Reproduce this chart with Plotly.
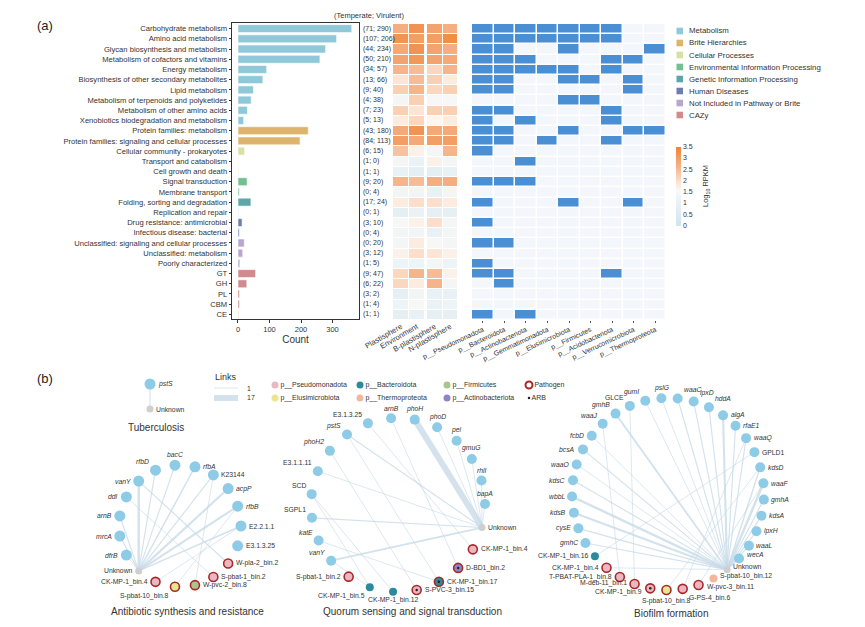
import math
import plotly.graph_objects as go

W, H = 865, 627
FONT = "Liberation Sans, Arial, sans-serif"


def fx(p):
    return p / W


def fy(p):
    return 1 - p / H


# ---------------- Panel (a) data ----------------
categories = [
    "Carbohydrate metabolism", "Amino acid metabolism", "Glycan biosynthesis and metabolism",
    "Metabolism of cofactors and vitamins", "Energy metabolism",
    "Biosynthesis of other secondary metabolites", "Lipid metabolism",
    "Metabolism of terpenoids and polyketides", "Metabolism of other amino acids",
    "Xenobiotics biodegradation and metabolism", "Protein families: metabolism",
    "Protein families: signaling and cellular processes", "Cellular community - prokaryotes",
    "Transport and catabolism", "Cell growth and death", "Signal transduction",
    "Membrane transport", "Folding, sorting and degradation", "Replication and repair",
    "Drug resistance: antimicrobial", "Infectious disease: bacterial",
    "Unclassified: signaling and cellular processes", "Unclassified: metabolism",
    "Poorly characterized", "GT", "GH", "PL", "CBM", "CE",
]
temperate = [71, 107, 44, 50, 34, 13, 9, 4, 7, 5, 43, 84, 6, 1, 1, 9, 0, 17, 0, 3, 0, 0, 3, 1, 9, 6, 3, 1, 1]
virulent = [290, 206, 234, 210, 57, 66, 40, 38, 23, 13, 180, 113, 15, 0, 1, 20, 4, 24, 1, 10, 4, 20, 12, 5, 47, 22, 2, 4, 1]
group_of = [0] * 10 + [1, 1] + [2, 2, 2] + [3] + [3] + [4, 4] + [5, 5] + [6, 6, 6] + [7] * 5
group_names = ["Metabolism", "Brite Hierarchies", "Cellular Processes",
               "Environmental Information Processing", "Genetic Information Processing",
               "Human Diseases", "Not Included in Pathway or Brite", "CAZy"]
group_colors = ["#8fc9d9", "#deb46c", "#d6e1a4", "#72bf8f", "#5fa6aa", "#6c7fac", "#b7a7cc", "#d08b8f"]

heat_cols = ["Plastisphere", "Environment", "B-plastisphere", "N-plastisphere"]
heat_vals = [
    [2.7, 3.2, 2.9, 2.7], [3.2, 3.0, 3.0, 3.3], [2.8, 3.2, 2.9, 2.7], [2.9, 3.1, 2.9, 2.8],
    [2.6, 2.5, 2.1, 2.6], [1.9, 2.5, 2.2, 1.8], [2.2, 2.6, 2.1, 2.2], [1.4, 2.2, 1.45, 1.45],
    [2.2, 1.9, 2.2, 2.2], [1.8, 2.1, 1.6, 1.8], [2.8, 3.2, 2.8, 2.8], [3.0, 2.8, 3.0, 3.0],
    [2.4, 1.7, 1.4, 2.6], [1.4, 1.1, 1.7, 1.4], [1.0, 0.8, 0.8, 1.0], [2.6, 2.5, 2.7, 2.7],
    [1.3, 1.3, 1.0, 1.4], [1.8, 2.0, 2.0, 1.8], [0.8, 1.1, 0.9, 0.9], [1.5, 1.7, 2.0, 1.4],
    [1.3, 1.3, 1.0, 1.4], [1.4, 1.8, 1.5, 1.4], [1.7, 2.0, 1.9, 1.7], [1.2, 1.2, 1.4, 1.2],
    [2.1, 2.6, 2.5, 1.7], [2.1, 1.8, 2.6, 1.4], [0.9, 1.3, 1.0, 1.0], [1.2, 1.5, 1.1, 1.2],
    [0.8, 1.0, 0.9, 0.9],
]

phyla_cols = ["p__Pseudomonadota", "p__Bacteroidota", "p__Actinobacteriota", "p__Gemmatimonadota",
              "p__Elusimicrobiota", "p__Firmicutes", "p__Acidobacteriota", "p__Verrucomicrobiota",
              "p__Thermoproteota"]
# indices (0-based) of phyla in which each category is present
presence = [
    [0, 1, 2, 3, 4, 5, 6], [0, 1, 2, 3, 4, 5, 6], [0, 1, 4, 8], [0, 1, 2, 6, 7], [0, 1, 2, 3, 4, 6],
    [0, 1, 4, 5, 7], [0, 1, 7], [4, 5], [0, 1, 6], [0, 2, 6], [0, 1, 4, 7, 8], [0, 1, 3, 6],
    [0], [2], [], [0, 1, 2], [], [0, 4, 7], [], [0], [], [0, 1], [], [0], [0, 1, 6], [1], [], [], [0, 2],
]

# ---------------- Panel (b) data ----------------
phylum_colors = {
    "Pseudomonadota": "#eab6c3", "Bacteroidota": "#2b8a9b", "Firmicutes": "#a9c58c",
    "Elusimicrobiota": "#ece58f", "Thermoproteota": "#f2b89d", "Actinobacteriota": "#8c86c9",
}

tb_nodes = ["pstS", "Unknown"]
tb_bins = {}
tb_edges = [("pstS", "Unknown", 2)]

abx_nodes = ["E2.2.1.1", "rfbB", "acpP", "K23144", "rfbA", "bacC", "rfbD", "vanY", "ddl", "arnB",
             "mrcA", "dfrB", "Unknown", "CK-MP-1_bin.4", "S-pbat-10_bin.8", "W-pvc-2_bin.8",
             "S-pbat-1_bin.2", "W-pla-2_bin.2", "E3.1.3.25"]
abx_bins = {"CK-MP-1_bin.4": ("Pseudomonadota", 1, 0), "S-pbat-10_bin.8": ("Elusimicrobiota", 1, 0),
            "W-pvc-2_bin.8": ("Firmicutes", 1, 0), "S-pbat-1_bin.2": ("Pseudomonadota", 1, 0),
            "W-pla-2_bin.2": ("Pseudomonadota", 1, 0)}
abx_edges = [("Unknown", "dfrB", 1), ("Unknown", "mrcA", 2), ("Unknown", "arnB", 2), ("Unknown", "vanY", 6),
             ("Unknown", "rfbD", 2), ("Unknown", "bacC", 2), ("Unknown", "rfbA", 3), ("Unknown", "K23144", 2),
             ("Unknown", "acpP", 5), ("Unknown", "rfbB", 5), ("Unknown", "E2.2.1.1", 3),
             ("ddl", "S-pbat-1_bin.2", 1), ("vanY", "W-pla-2_bin.2", 2), ("CK-MP-1_bin.4", "E2.2.1.1", 1),
             ("S-pbat-10_bin.8", "rfbB", 1), ("W-pvc-2_bin.8", "K23144", 1)]

qs_nodes = ["Unknown", "bapA", "rhlI", "gmuG", "pel", "phoD", "phoH", "arnB", "E3.1.3.25", "pstS", "phoH2",
            "E3.1.1.11", "SCD", "SGPL1", "katE", "vanY", "S-pbat-1_bin.2", "CK-MP-1_bin.5",
            "CK-MP-1_bin.12", "S-PVC-3_bin.15", "CK-MP-1_bin.17", "D-BD1_bin.2", "CK-MP-1_bin.4"]
qs_bins = {"S-pbat-1_bin.2": ("Pseudomonadota", 1, 0), "CK-MP-1_bin.5": ("Bacteroidota", 0, 0),
           "CK-MP-1_bin.12": ("Bacteroidota", 0, 0), "S-PVC-3_bin.15": ("Pseudomonadota", 1, 1),
           "CK-MP-1_bin.17": ("Bacteroidota", 1, 1), "D-BD1_bin.2": ("Actinobacteriota", 1, 1),
           "CK-MP-1_bin.4": ("Pseudomonadota", 1, 0)}
qs_edges = [("Unknown", "bapA", 1), ("Unknown", "rhlI", 1), ("Unknown", "gmuG", 1), ("Unknown", "pel", 1),
            ("Unknown", "phoD", 1), ("Unknown", "phoH", 17), ("Unknown", "pstS", 2), ("Unknown", "E3.1.1.11", 1),
            ("Unknown", "SGPL1", 2), ("Unknown", "vanY", 4), ("E3.1.3.25", "CK-MP-1_bin.4", 1),
            ("arnB", "D-BD1_bin.2", 1), ("phoH2", "S-PVC-3_bin.15", 1), ("SCD", "CK-MP-1_bin.12", 1),
            ("SCD", "CK-MP-1_bin.5", 1), ("katE", "CK-MP-1_bin.17", 1), ("vanY", "CK-MP-1_bin.5", 1),
            ("pstS", "CK-MP-1_bin.17", 1)]

bf_nodes = ["Unknown", "wecA", "waaL", "lpxH", "kdsA", "gmhA", "waaF", "kdsD", "GPLD1", "waaQ", "rfaE1",
            "algA", "hddA", "lpxD", "waaC", "pslG", "gumI", "GLCE", "gmhB", "waaJ", "fcbD", "bcsA", "waaO",
            "kdsC", "wbbL", "kdsB", "cysE", "gmhC", "CK-MP-1_bin.16", "CK-MP-1_bin.4", "T-PBAT-PLA-1_bin.8",
            "M-deb-11_bin.1", "CK-MP-1_bin.9", "S-pbat-10_bin.8", "G-PS-4_bin.6", "W-pvc-3_bin.11",
            "S-pbat-10_bin.12"]
bf_bins = {"CK-MP-1_bin.16": ("Bacteroidota", 0, 0), "CK-MP-1_bin.4": ("Pseudomonadota", 1, 0),
           "T-PBAT-PLA-1_bin.8": ("Pseudomonadota", 1, 0), "M-deb-11_bin.1": ("Pseudomonadota", 1, 0),
           "CK-MP-1_bin.9": ("Pseudomonadota", 1, 1), "S-pbat-10_bin.8": ("Elusimicrobiota", 1, 0),
           "G-PS-4_bin.6": ("Pseudomonadota", 1, 0), "W-pvc-3_bin.11": ("Pseudomonadota", 1, 0),
           "S-pbat-10_bin.12": ("Thermoproteota", 0, 0)}
bf_edges = [("Unknown", "wecA", 2), ("Unknown", "waaL", 2), ("Unknown", "lpxH", 2), ("Unknown", "kdsA", 2),
            ("Unknown", "gmhA", 2), ("Unknown", "waaF", 6), ("Unknown", "kdsD", 3), ("Unknown", "waaQ", 2),
            ("Unknown", "rfaE1", 2), ("Unknown", "algA", 5), ("Unknown", "hddA", 2), ("Unknown", "lpxD", 2),
            ("Unknown", "waaC", 2), ("Unknown", "pslG", 1), ("Unknown", "gumI", 1), ("Unknown", "gmhB", 4),
            ("Unknown", "bcsA", 2), ("Unknown", "waaO", 1), ("Unknown", "kdsC", 2), ("Unknown", "wbbL", 6),
            ("Unknown", "kdsB", 5), ("Unknown", "cysE", 2), ("Unknown", "gmhC", 2), ("Unknown", "fcbD", 1),
            ("CK-MP-1_bin.16", "GPLD1", 1), ("CK-MP-1_bin.4", "Unknown", 1), ("T-PBAT-PLA-1_bin.8", "waaJ", 1),
            ("M-deb-11_bin.1", "GLCE", 1), ("S-pbat-10_bin.8", "kdsD", 1), ("W-pvc-3_bin.11", "waaF", 1),
            ("G-PS-4_bin.6", "waaQ", 1)]

# label placement overrides (style only): position keyword
label_override = {
    "Tuberculosis": {"pstS": "middle right", "Unknown": "middle right"},
    "Antibiotic synthesis and resistance": {"CK-MP-1_bin.4": "middle left", "S-pbat-10_bin.8": "bottom left",
                                            "W-pvc-2_bin.8": "middle right", "Unknown": "middle left",
                                            "rfbD": "top left", "bacC": "top center", "rfbA": "middle right"},
    "Quorum sensing and signal transduction": {"CK-MP-1_bin.5": "bottom left", "CK-MP-1_bin.12": "bottom center",
                                               "S-PVC-3_bin.15": "middle right", "Unknown": "middle right",
                                               "bapA": "top center", "rhlI": "top center", "gmuG": "top center",
                                               "pel": "top center", "phoD": "top center", "phoH": "top center",
                                               "arnB": "top center", "E3.1.3.25": "top left",
                                               "pstS": "top left", "phoH2": "top left", "E3.1.1.11": "top left",
                                               "SCD": "top left", "SGPL1": "top left", "katE": "top left",
                                               "vanY": "top left", "S-pbat-1_bin.2": "middle left"},
    "Biofilm formation": {"M-deb-11_bin.1": "middle left", "CK-MP-1_bin.9": "middle left",
                          "S-pbat-10_bin.8": "bottom center", "G-PS-4_bin.6": "bottom right",
                          "W-pvc-3_bin.11": "middle right", "S-pbat-10_bin.12": "middle right",
                          "Unknown": "middle right", "gumI": "top left", "pslG": "top center",
                          "waaC": "top right", "lpxD": "top right", "hddA": "top right",
                          "GLCE": "top left", "gmhB": "top left", "waaJ": "top left"},
}
# extra label offsets in px (dx right, dy down)
label_nudge = {
    "Biofilm formation": {"M-deb-11_bin.1": (0, -1), "CK-MP-1_bin.9": (0, 4), "Unknown": (0, -3),
                          "wecA": (0, -4), "S-pbat-10_bin.12": (0, -2.5), "W-pvc-3_bin.11": (0, 2)},
    "Quorum sensing and signal transduction": {"CK-MP-1_bin.12": (0, -1)},
}

# network layout (centre x, centre y, radius in px, start angle deg, gene marker size)
networks = [
    ("Tuberculosis", tb_nodes, tb_bins, tb_edges, (150, 396.5, 12.5, 90, 11)),
    ("Antibiotic synthesis and resistance", abx_nodes, abx_bins, abx_edges, (180, 526, 61, 0, 11)),
    ("Quorum sensing and signal transduction", qs_nodes, qs_bins, qs_edges, (398, 505, 87, -15, 10)),
    ("Biofilm formation", bf_nodes, bf_bins, bf_edges, (668, 494, 96, -52, 10)),
]
titles_pos = {"Tuberculosis": (156, 427), "Antibiotic synthesis and resistance": (187, 611),
              "Quorum sensing and signal transduction": (412, 611), "Biofilm formation": (671, 613)}

# ---------------- Build figure ----------------
fig = go.Figure()
n = len(categories)
rows = list(range(n))
totals = [t + v for t, v in zip(temperate, virulent)]

fig.add_trace(go.Bar(
    x=totals, y=rows, orientation="h", width=0.78,
    marker=dict(color=[group_colors[g] for g in group_of], line=dict(color="white", width=0.6)),
    xaxis="x", yaxis="y", showlegend=False))

heat_scale = [[0, "#cfe5ee"], [0.35, "#eef4f6"], [0.45, "#faf8f6"], [0.55, "#fde3d2"],
              [0.75, "#f6b288"], [1, "#ee8434"]]
fig.add_trace(go.Heatmap(
    z=[r[:2] for r in heat_vals], x=heat_cols[:2], y=rows, xaxis="x2", yaxis="y2",
    colorscale=heat_scale, zmin=0, zmax=3.5, xgap=1, ygap=1, showscale=True,
    colorbar=dict(x=fx(676), xanchor="left", y=fy(186), yanchor="middle", len=79, lenmode="pixels",
                  thickness=5, outlinewidth=0, ticks="", tickvals=[0, 0.5, 1, 1.5, 2, 2.5, 3, 3.5],
                  ticktext=["0", "0.5", "1", "1.5", "2", "2.5", "3", "3.5"],
                  tickfont=dict(size=7, color="#333", family=FONT), xpad=0, ypad=0)))
fig.add_trace(go.Heatmap(
    z=[r[2:] for r in heat_vals], x=heat_cols[2:], y=rows, xaxis="x3", yaxis="y2",
    colorscale=heat_scale, zmin=0, zmax=3.5, xgap=1, ygap=1, showscale=False))

bin_matrix = [[1 if j in presence[i] else 0 for j in range(len(phyla_cols))] for i in range(n)]
fig.add_trace(go.Heatmap(
    z=bin_matrix, x=phyla_cols, y=rows, xaxis="x4", yaxis="y2",
    colorscale=[[0, "#f3f6fb"], [1, "#4a8fd4"]], zmin=0, zmax=1, xgap=1.5, ygap=1.5, showscale=False))


def pann(x, y, text, size, xanchor="center", yanchor="middle", color="#333", **kw):
    d = dict(x=fx(x), y=fy(y), xref="paper", yref="paper", text=text, showarrow=False,
             xanchor=xanchor, yanchor=yanchor, font=dict(size=size, color=color, family=FONT))
    d.update(kw)
    return d


ann = []
for i in rows:
    ann.append(dict(x=fx(361), xref="paper", y=i, yref="y", text=f"({temperate[i]}; {virulent[i]})",
                    showarrow=False, xanchor="left", yanchor="middle", font=dict(size=7, color="#333")))
ann.append(pann(369, 15, "(Temperate; Virulent)", 7.5))
ann.append(pann(35, 25, "(a)", 13, xanchor="left", color="#222"))
ann.append(pann(35, 378, "(b)", 13, xanchor="left", color="#222"))
ann.append(pann(706, 186, "Log<sub>10</sub> RPKM", 7.5, textangle=-90))

shapes = []
for k, (gname, gcol) in enumerate(zip(group_names, group_colors)):
    yc = 31 + 12 * k
    shapes.append(dict(type="rect", xref="paper", yref="paper", x0=fx(676.5), x1=fx(683),
                       y0=fy(yc + 3.3), y1=fy(yc - 3.3), fillcolor=gcol, line=dict(width=0)))
    ann.append(pann(687, yc, gname, 7.8, xanchor="left"))

# ---------------- networks ----------------
EDGE_COL = "rgba(196,216,230,0.75)"
GENE_COL = "#8ecbe6"
UNK_COL = "#cfcfcf"
PATH_COL = "#a82828"


def ew(w):
    return 0.8 + (w - 1) * 5.2 / 16


def label_pos(c, s):
    if c > 0.2:
        return "middle right"
    if c < -0.2:
        return "middle left"
    vert = "top" if s >= 0 else "bottom"
    if c > 0.08:
        return vert + " right"
    if c < -0.08:
        return vert + " left"
    return vert + " center"


def label_ann(x, y, text, where, rad, nudge):
    vert, horiz = where.split()
    xs, ys = 0.0, 0.0
    diag = 0.7 if (vert != "middle" and horiz != "center") else 1.0
    if horiz == "right":
        xa, xs = "left", rad * diag + 1.5
    elif horiz == "left":
        xa, xs = "right", -(rad * diag + 1.5)
    else:
        xa = "center"
    if vert == "top":
        ya, ys = "bottom", rad * diag + 0.5
    elif vert == "bottom":
        ya, ys = "top", -(rad * diag + 0.5)
    else:
        ya = "middle"
    xs += nudge[0]
    ys -= nudge[1]
    return dict(x=x, y=y, xref="x5", yref="y5", text=text, showarrow=False, xanchor=xa, yanchor=ya,
                xshift=xs, yshift=ys, borderpad=0, font=dict(size=6.8, color="#333", family=FONT))


for title, nodes, bins, edges, (cx, cy, r, start, gsize) in networks:
    pos = {}
    ang = {}
    m = len(nodes)
    for i, name in enumerate(nodes):
        a = math.radians(start + 360.0 * i / m)
        ang[name] = a
        pos[name] = (cx + r * math.cos(a), cy - r * math.sin(a))
    weights = sorted(set(e[2] for e in edges))
    for w in weights:
        xs, ys = [], []
        for s, t, ww in edges:
            if ww == w:
                xs += [pos[s][0], pos[t][0], None]
                ys += [pos[s][1], pos[t][1], None]
        fig.add_trace(go.Scatter(x=xs, y=ys, mode="lines", xaxis="x5", yaxis="y5",
                                 line=dict(color=EDGE_COL, width=ew(w)), showlegend=False,
                                 hoverinfo="skip"))
    xs, ys, cols, sizes, lcols, lws = [], [], [], [], [], []
    arb_x, arb_y = [], []
    ovr = label_override.get(title, {})
    nud = label_nudge.get(title, {})
    for name in nodes:
        x, y = pos[name]
        xs.append(x)
        ys.append(y)
        if name == "Unknown":
            cols.append(UNK_COL); sizes.append(7); lcols.append(UNK_COL); lws.append(0)
            rad = 3.5
        elif name in bins:
            ph, pathogen, arb = bins[name]
            cols.append(phylum_colors[ph])
            sizes.append(9 if pathogen else 8)
            lcols.append(PATH_COL if pathogen else phylum_colors[ph])
            lws.append(1.6 if pathogen else 0)
            rad = 5.5 if pathogen else 4
            if arb:
                arb_x.append(x); arb_y.append(y)
        else:
            cols.append(GENE_COL); sizes.append(gsize); lcols.append(GENE_COL); lws.append(0)
            rad = gsize / 2
        italic = name[0].islower()
        text = f"<i>{name}</i>" if italic else name
        where = ovr.get(name, label_pos(math.cos(ang[name]), math.sin(ang[name])))
        ann.append(label_ann(x, y, text, where, rad, nud.get(name, (0, 0))))
    fig.add_trace(go.Scatter(
        x=xs, y=ys, mode="markers", xaxis="x5", yaxis="y5",
        marker=dict(color=cols, size=sizes, line=dict(color=lcols, width=lws), opacity=1),
        showlegend=False, hoverinfo="skip", cliponaxis=False))
    if arb_x:
        fig.add_trace(go.Scatter(x=arb_x, y=arb_y, mode="markers", xaxis="x5", yaxis="y5",
                                 marker=dict(color="#222", size=2.5), showlegend=False, hoverinfo="skip"))
    tx, ty = titles_pos[title]
    ann.append(pann(tx, ty, title, 10))

# Links legend
ann.append(pann(226, 377, "Links", 9))
for yv, w, lab in [(388, 1, "1"), (398, 17, "17")]:
    shapes.append(dict(type="line", xref="paper", yref="paper", x0=fx(214), x1=fx(238), y0=fy(yv), y1=fy(yv),
                       line=dict(color=EDGE_COL, width=ew(w))))
    ann.append(pann(245, yv, lab, 7, xanchor="left"))

# phylum / pathogen legend
legend_items = [
    (275, 385, "Pseudomonadota"), (360, 385, "Bacteroidota"), (447, 385, "Firmicutes"),
    (275, 398, "Elusimicrobiota"), (360, 398, "Thermoproteota"), (447, 398, "Actinobacteriota"),
]
for lx, ly, ph in legend_items:
    fig.add_trace(go.Scatter(x=[lx], y=[ly], mode="markers+text", xaxis="x5", yaxis="y5",
                             marker=dict(color=phylum_colors[ph], size=7), text=[f"p__{ph}"],
                             textposition="middle right", textfont=dict(size=7, color="#333", family=FONT),
                             showlegend=False, hoverinfo="skip", cliponaxis=False))
fig.add_trace(go.Scatter(x=[529], y=[385], mode="markers+text", xaxis="x5", yaxis="y5",
                         marker=dict(color="white", size=7, line=dict(color=PATH_COL, width=2)),
                         text=["Pathogen"], textposition="middle right",
                         textfont=dict(size=7, color="#333", family=FONT), showlegend=False,
                         hoverinfo="skip", cliponaxis=False))
fig.add_trace(go.Scatter(x=[529], y=[398], mode="markers+text", xaxis="x5", yaxis="y5",
                         marker=dict(color="#222", size=2.5), text=["ARB"], textposition="middle right",
                         textfont=dict(size=7, color="#333", family=FONT), showlegend=False,
                         hoverinfo="skip", cliponaxis=False))

axis_font = dict(size=7.5, color="#333", family=FONT)
fig.update_layout(
    template="none",
    width=W, height=H, margin=dict(l=0, r=0, t=0, b=0, pad=0, autoexpand=False),
    paper_bgcolor="white", plot_bgcolor="rgba(0,0,0,0)",
    font=dict(family=FONT, color="#333"),
    showlegend=False,
    annotations=ann, shapes=shapes,
    xaxis=dict(domain=[fx(232), fx(359)], range=[-19, 384], tickvals=[0, 100, 200, 300], ticks="outside",
               ticklen=3, tickcolor="#333", tickfont=axis_font, showline=True, mirror=True,
               linecolor="#333", linewidth=1.3, showgrid=False, zeroline=False, anchor="y", automargin=False,
               title=dict(text="Count", font=dict(size=10, color="#333"), standoff=2)),
    yaxis=dict(domain=[fy(319), fy(23)], range=[28.45, -0.55], tickvals=rows, ticktext=categories,
               ticks="outside", ticklen=2, tickcolor="#333", tickfont=dict(size=7.6, color="#333"),
               showline=True, mirror=True, linecolor="#333", linewidth=1.3, showgrid=False,
               zeroline=False, anchor="x", automargin=False),
    xaxis2=dict(domain=[fx(393), fx(424.5)], anchor="y2", tickangle=-30, tickfont=axis_font,
                showgrid=False, zeroline=False, ticks="", automargin=False, showline=False),
    xaxis3=dict(domain=[fx(427), fx(458)], anchor="y2", tickangle=-30, tickfont=axis_font,
                showgrid=False, zeroline=False, ticks="", automargin=False, showline=False),
    xaxis4=dict(domain=[fx(472), fx(666)], anchor="y2", tickangle=-25, tickfont=dict(size=7, color="#333"),
                showgrid=False, zeroline=False, ticks="outside", ticklen=2, tickcolor="#555",
                automargin=False, showline=False),
    yaxis2=dict(domain=[fy(320), fy(24)], range=[28.5, -0.5], visible=False, anchor="x2", automargin=False),
    xaxis5=dict(domain=[0, 1], range=[0, W], visible=False, anchor="y5", automargin=False),
    yaxis5=dict(domain=[0, fy(365)], range=[H, 365], visible=False, anchor="x5", automargin=False),
)

fig.write_html("out.html", config={"displayModeBar": False, "staticPlot": True},
               post_script="document.body.style.margin='0';document.body.style.padding='0';")
